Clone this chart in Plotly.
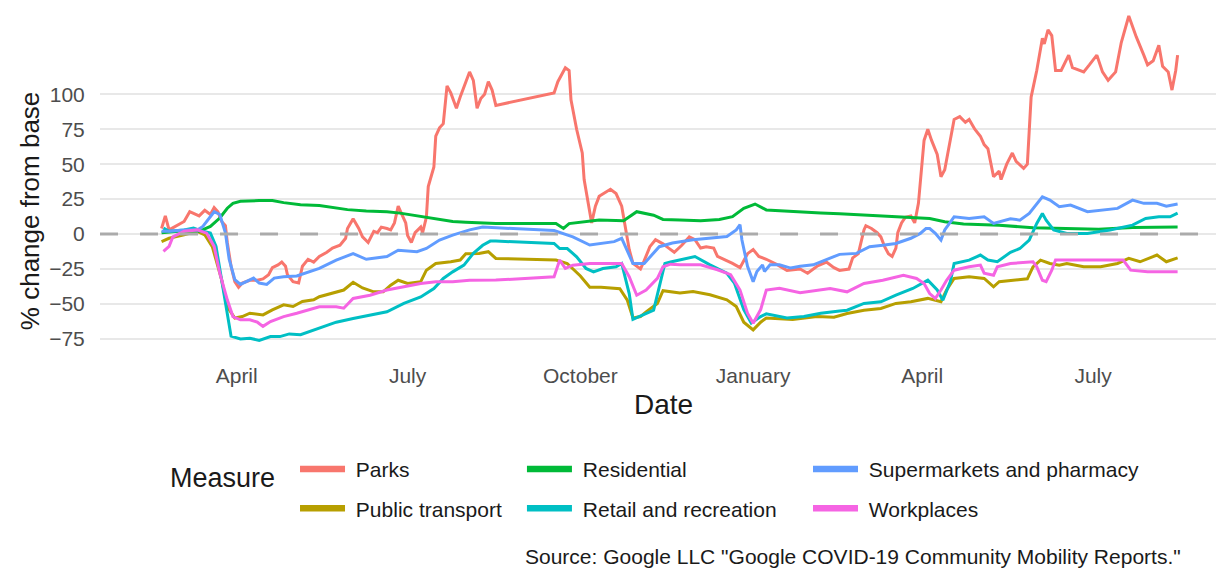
import pandas as pd
import plotly.graph_objects as go

# ---- data: days since 2020-02-15 (start of the mobility record) and % change from baseline
DAY0 = "2020-02-15"

parks_day = [6, 8, 10, 14, 18, 21, 24, 26, 29, 32, 34, 36, 38, 40, 41, 43, 45, 47, 49, 53,
             57, 60, 63, 65, 68, 70, 72, 73, 76, 79, 81, 84, 87, 90, 94, 97, 101, 104, 105, 108,
             111, 113, 116, 119, 121, 123, 126, 128, 130, 132, 134, 136, 137, 139, 141, 144, 145, 147, 148, 151,
             152, 154, 156, 158, 160, 163, 165, 168, 170, 172, 174, 176, 178, 180, 182, 184, 215, 217, 221, 223,
             224, 227, 230, 231, 234, 235, 237, 239, 245, 248, 251, 253, 255, 257, 261, 263, 266, 269, 273, 276,
             279, 283, 287, 290, 293, 296, 300, 302, 307, 310, 314, 318, 321, 324, 328, 334, 339, 346, 350, 355,
             360, 364, 367, 372, 374, 377, 380, 381, 384, 387, 389, 391, 393, 395, 397, 398, 400, 402, 405, 407,
             409, 411, 412, 414, 416, 419, 421, 423, 426, 428, 431, 434, 436, 439, 442, 444, 446, 449, 452, 453,
             456, 459, 461, 465, 467, 469, 472, 475, 476, 478, 480, 482, 485, 489, 491, 497, 500, 504, 507, 510,
             514, 517, 521, 525, 529, 531, 534, 537, 539, 542, 544, 546, 547]
parks_val = [4, 13, 3, 6, 9, 16, 14, 13, 17, 14, 19, 16, 9, 6, -6, -23, -34, -38, -35, -33,
             -33, -32, -29, -24, -22, -20, -23, -29, -34, -35, -23, -18, -20, -16, -13, -10, -8, -3, 4, 11,
             4, -2, -6, 2, 1, 5, 4, 3, 8, 20, 14, 8, -1, -6, 1, 5, 1, 12, 34, 48,
             70, 76, 79, 106, 101, 90, 98, 108, 116, 110, 90, 97, 100, 109, 103, 92, 101, 109, 119, 117,
             96, 75, 58, 39, 15, 8, 20, 27, 32, 29, 20, 5, -11, -21, -25, -19, -9, -4, -7, -10,
             -13, -8, -2, -4, -10, -9, -10, -16, -19, -21, -24, -14, -11, -16, -18, -22, -26, -25, -28, -23,
             -20, -24, -26, -25, -17, -14, 3, 6, 4, 1, -2, -9, -14, -16, -10, 1, 8, 12, 13, 8,
             22, 51, 67, 75, 67, 57, 41, 46, 67, 82, 84, 80, 82, 75, 70, 64, 61, 41, 45, 39,
             50, 58, 52, 47, 50, 98, 117, 140, 136, 146, 142, 117, 117, 128, 119, 116, 121, 128, 116, 110,
             116, 137, 156, 141, 128, 121, 124, 135, 120, 116, 103, 117, 128]

transport_day = [6, 10, 18, 25, 29, 33, 35, 38, 41, 45, 49, 53, 60, 65, 71, 76, 81, 87, 90, 97,
                 103, 108, 113, 119, 124, 128, 132, 137, 144, 147, 152, 160, 165, 168, 175, 180, 184, 216, 222, 229,
                 234, 240, 250, 254, 257, 261, 264, 270, 273, 282, 289, 298, 307, 312, 316, 321, 325, 328, 342, 355,
                 364, 371, 380, 389, 397, 405, 414, 421, 424, 428, 436, 444, 449, 452, 458, 467, 470, 474, 479, 484,
                 488, 497, 506, 515, 521, 527, 536, 541, 547]
transport_val = [-5.3, -3, -0.5, 2, -0.5, -9, -18.4, -32.7, -52, -60, -59, -56.6, -57.8, -54.2, -50.6, -51.8, -48.2, -47, -44.8, -42.5,
                 -40, -34.5, -38.5, -41.3, -41.3, -36.5, -33, -35.3, -34, -25.8, -21, -19.8, -18.6, -14, -13.8, -12.6, -17.4, -18.6, -21, -30,
                 -38, -38, -39, -47.3, -60, -59, -55.6, -49.6, -40.5, -42.2, -41, -43.4, -47, -51.8, -63, -68.5, -63, -60, -61, -59,
                 -59.5, -56.8, -54.4, -53.2, -49.6, -48.4, -46, -48.4, -40, -31.7, -30.5, -31.7, -37.7, -34, -33, -32, -23.4, -18.6, -21, -22.2,
                 -21, -23.4, -23.4, -21, -17.4, -19.8, -15, -19.8, -17]

residential_day = [6, 15, 26, 32, 37, 41, 44, 48, 58, 65, 71, 80, 90, 105, 115, 126, 133, 144, 151, 161,
                   168, 184, 216, 220, 223, 239, 252, 259, 268, 273, 282, 293, 303, 310, 316, 322, 328, 342, 357, 367,
                   380, 397, 415, 423, 433, 452, 470, 505, 523, 547]
residential_val = [1, 2, 2, 5.5, 11.5, 18.5, 22, 23.5, 24, 24, 22.5, 21, 20.5, 17.5, 16.5, 16, 15, 12.5, 11, 9,
                   8.5, 7.5, 7.5, 4, 7.5, 10, 9.5, 16, 13.5, 10.5, 10, 9.5, 10.5, 12.5, 18.5, 21.5, 17.3, 16, 15, 14.5,
                   13.6, 12.4, 11.2, 8.8, 7.2, 6.4, 4.5, 3.5, 4.8, 5]

retail_day = [7, 10, 18, 23, 28, 32, 35, 38, 41, 43, 48, 53, 58, 64, 69, 74, 80, 85, 90, 96,
              99, 108, 117, 126, 135, 144, 151, 156, 161, 167, 172, 177, 181, 184, 215, 218, 222, 227, 232, 236,
              241, 248, 251, 255, 257, 262, 268, 271, 274, 277, 282, 290, 298, 307, 311, 316, 320, 325, 328, 339,
              348, 357, 367, 371, 380, 389, 397, 406, 414, 419, 422, 426, 428, 436, 442, 446, 451, 458, 463, 468,
              472, 475, 477, 481, 488, 499, 511, 523, 530, 537, 543, 547]
retail_val = [4.3, 2, 3, 4.3, 2, 0.7, -8.8, -32.7, -54, -73, -75, -74.5, -76, -73.3, -73.3, -71.4, -72, -69.7, -67.5, -64.9,
              -63, -60.4, -58, -55.6, -49.6, -45, -39, -31.7, -27, -22.2, -13.8, -8, -5, -5, -6.7, -10.3, -10.3, -16.2, -24.6, -27,
              -24.6, -23.4, -21, -42.5, -61, -58, -54.4, -37.7, -21, -20, -18.4, -16, -22, -28, -35, -54, -63.7, -59, -57, -60,
              -59, -56.6, -55, -54.4, -49.6, -48.4, -43.7, -38.9, -33, -40, -47.3, -34, -21, -18.6, -15, -18.6, -19.8, -13, -10.3, -4.3,
              7.6, 14.8, 10, 3, 0.5, 0.5, 3, 6.4, 11.2, 12.4, 12.4, 15]

grocery_day = [6, 10, 18, 25, 28, 32, 34, 37, 40, 42, 45, 48, 51, 55, 58, 62, 66, 71, 78, 85,
               90, 99, 108, 115, 126, 132, 142, 147, 154, 161, 170, 177, 184, 215, 225, 234, 247, 251, 257, 263,
               271, 278, 289, 298, 307, 312, 314, 315, 318, 321, 323, 326, 327, 330, 335, 341, 346, 353, 360, 367,
               376, 383, 390, 397, 405, 410, 413, 415, 418, 421, 423, 428, 436, 444, 449, 458, 463, 468, 475, 479,
               484, 490, 499, 509, 515, 523, 529, 536, 541, 547]
grocery_val = [2, 2, 3, 3, 5.5, 12.5, 16, 14, 1, -18, -32.5, -36, -34, -31.5, -35, -36, -31.5, -30.5, -30, -26.5,
               -24.5, -18.6, -14, -18, -16, -11.5, -12.6, -10.3, -4.3, -0.7, 3, 5, 4.5, 2.5, -2, -7.8, -5.4, -3, -21, -21,
               -9, -6.4, -4, -3, -1.7, 3, 6.7, -4, -23, -34, -26.7, -22, -26.7, -22, -22, -24.3, -23, -22, -18.4, -14.5,
               -13.8, -9, -8, -6.7, -3, 0.5, 4, 4, 0.5, -4.3, 3, 12.4, 11.2, 12.4, 7.6, 11, 10, 14.8, 26.7, 24.3,
               19.6, 20.8, 16, 17.2, 18.4, 24.3, 22, 22, 20, 21.5]

work_day = [7, 10, 12, 18, 25, 30, 34, 37, 41, 44, 48, 53, 57, 60, 64, 71, 78, 85, 90, 99,
            103, 108, 117, 126, 135, 144, 152, 161, 170, 184, 215, 218, 221, 225, 234, 251, 255, 259, 264, 270,
            273, 277, 282, 293, 302, 309, 314, 318, 321, 325, 328, 335, 346, 357, 362, 371, 380, 390, 401, 408,
            412, 415, 418, 421, 424, 428, 436, 442, 444, 449, 451, 458, 470, 472, 475, 477, 480, 482, 497, 518,
            522, 531, 547]
work_val = [-12.4, -8.8, -2, 2, 3, 0.7, -8.8, -28, -47, -59, -61.3, -61.3, -63, -66, -62.5, -59, -56.6, -54, -52, -52,
            -53, -46, -43.7, -40, -37.7, -35.3, -34, -34, -33, -32.9, -30.5, -18.6, -24.6, -22.2, -21, -21, -30.5, -43.7, -40, -31.7,
            -23.4, -21.5, -22, -22, -25.5, -29, -40, -56.6, -63.7, -54, -40, -38.7, -42, -40, -39, -41.3, -35.3, -33, -29.4, -31.7,
            -35.3, -42.5, -46, -40, -33, -25.8, -23.4, -22.2, -28, -29.4, -23.4, -21, -19.8, -23.4, -33, -34, -25.8, -18.6, -18.6, -18.6,
            -25.8, -27, -27]

measures = ["Parks", "Public transport", "Residential", "Retail and recreation",
            "Supermarkets and pharmacy", "Workplaces"]
series_days = [parks_day, transport_day, residential_day, retail_day, grocery_day, work_day]
series_vals = [parks_val, transport_val, residential_val, retail_val, grocery_val, work_val]
colors = ["#F8766D", "#B79F00", "#00BA38", "#00BFC4", "#619CFF", "#F564E3"]
legend_ids = ["legend", "legend", "legend2", "legend2", "legend3", "legend3"]

x_tick_dates = ["2020-04-01", "2020-07-01", "2020-10-01", "2021-01-01", "2021-04-01", "2021-07-01"]
x_tick_text = ["April", "July", "October", "January", "April", "July"]
y_ticks = [-75, -50, -25, 0, 25, 50, 75, 100]

FONT = "Liberation Sans, Arial, Helvetica, sans-serif"

fig = go.Figure()
start = pd.Timestamp(DAY0)
for name, days, vals, col in zip(measures, series_days, series_vals, colors):
    dates = start + pd.to_timedelta(days, unit="D")
    fig.add_trace(go.Scatter(x=dates, y=vals, mode="lines", name=name,
                             line=dict(color=col, width=3), showlegend=False,
                             hoverinfo="skip"))
# legend keys (thicker lines as in the reference legend); a no-break space widens the key-to-text gap
for name, col, lg in zip(measures, colors, legend_ids):
    fig.add_trace(go.Scatter(x=[None], y=[None], mode="lines", name="\u00a0" + name,
                             line=dict(color=col, width=6.5), legend=lg,
                             legendgroup=name, showlegend=True))

# dashed reference line at zero
fig.add_shape(type="line", xref="paper", x0=0, x1=1, yref="y", y0=0, y1=0,
              line=dict(color="#ABABAB", width=3, dash="18px,22px"), layer="above")

leg_common = dict(orientation="v", xanchor="left", yanchor="top", y=-0.2633,
                  itemwidth=45, tracegroupgap=9, bgcolor="rgba(0,0,0,0)",
                  font=dict(family=FONT, size=21, color="#1A1A1A"))

fig.update_layout(
    width=1216, height=560,
    margin=dict(l=92, r=0, t=0, b=211.3),
    plot_bgcolor="white", paper_bgcolor="white",
    font=dict(family=FONT, color="#1A1A1A"),
    legend=dict(x=0.1735, **leg_common),
    legend2=dict(x=0.3754, **leg_common),
    legend3=dict(x=0.6299, **leg_common),
    xaxis=dict(type="date", range=["2020-01-19 05:17", "2021-09-08 16:48"],
               tickvals=x_tick_dates, ticktext=x_tick_text, showgrid=False,
               zeroline=False, showline=False, ticks="outside", ticklen=0,
               tickcolor="rgba(0,0,0,0)",
               tickfont=dict(family=FONT, size=21, color="#4D4D4D")),
    yaxis=dict(range=[-87.9, 161.7], tickvals=y_ticks, showgrid=True,
               gridcolor="#E8E8E8", gridwidth=1.6, zeroline=False, showline=False,
               ticks="outside", ticklen=10, tickcolor="rgba(0,0,0,0)",
               tickfont=dict(family=FONT, size=21, color="#4D4D4D")),
    annotations=[
        dict(text="% change from base", xref="paper", yref="paper", x=-0.0623, y=0.4178,
             textangle=-90, showarrow=False, xanchor="center", yanchor="middle",
             font=dict(family=FONT, size=26, color="#1A1A1A")),
        dict(text="Date", xref="paper", yref="paper", x=0.5009, y=-0.1356,
             showarrow=False, xanchor="center", yanchor="middle",
             font=dict(family=FONT, size=28, color="#1A1A1A")),
        dict(text="Measure", xref="paper", yref="paper", x=0.0605, y=-0.3479,
             showarrow=False, xanchor="left", yanchor="middle",
             font=dict(family=FONT, size=27, color="#1A1A1A")),
        dict(text='Source: Google LLC "Google COVID-19 Community Mobility Reports."',
             xref="paper", yref="paper", x=0.3763, y=-0.5716, showarrow=False,
             xanchor="left", yanchor="middle",
             font=dict(family=FONT, size=21, color="#1A1A1A")),
    ],
)

fig.write_html("out.html")
